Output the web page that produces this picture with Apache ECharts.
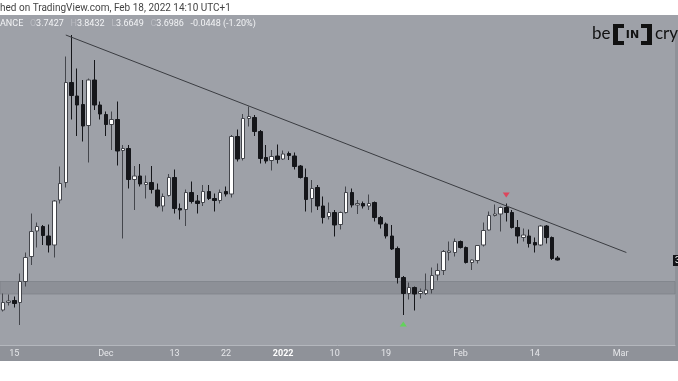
<!DOCTYPE html>
<html><head><meta charset="utf-8">
<script src="https://cdn.jsdelivr.net/npm/echarts@6/dist/echarts.min.js"></script>
<style>html,body{margin:0;padding:0;background:#fff}#c{width:678px;height:381px}</style>
</head><body><div id="c"></div>
<script>
// Daily candles from 2021-11-13 to 2022-02-18
const startDate = [2021, 10, 13];
const dayCount = 118; // axis runs to 2022-03-10
const opens = [2.68,2.83,2.87,2.83,3.25,3.75,4.26,4.35,4.16,3.98,4.88,5.23,7.23,6.96,6.79,6.37,7.28,6.78,6.59,6.39,
  6.49,5.87,5.91,5.29,5.36,5.19,5.23,5.08,4.76,4.97,5.33,4.71,4.69,5.03,4.86,4.83,5.05,4.91,4.87,5.05,
  5.00,6.15,5.71,6.51,6.53,6.25,5.73,5.67,5.76,5.70,5.81,5.76,5.56,5.33,4.91,5.13,4.76,4.55,4.63,4.39,
  4.63,5.03,4.78,4.81,4.76,4.83,4.53,4.40,4.16,3.91,3.33,3.01,3.13,3.01,3.01,3.09,3.38,3.47,3.83,3.83,
  4.05,3.93,3.63,3.67,3.98,4.28,4.57,4.60,4.73,4.63,4.33,4.13,4.16,4.03,3.98,4.36,4.13,3.72];
const closes = [2.83,2.86,2.81,3.25,3.73,4.25,4.35,4.17,3.98,4.86,5.21,7.23,6.97,6.78,6.36,7.28,6.78,6.60,6.39,6.49,
  5.86,5.91,5.29,5.36,5.20,5.23,5.09,4.76,4.95,5.33,4.71,4.68,5.03,4.85,4.81,5.05,4.91,4.87,5.03,5.00,
  6.15,5.70,6.51,6.55,6.25,5.71,5.66,5.75,5.69,5.80,5.77,5.55,5.33,4.89,5.11,4.76,4.53,4.63,4.38,4.63,
  5.03,4.78,4.81,4.76,4.81,4.53,4.40,4.16,3.90,3.33,3.01,3.13,3.00,3.05,3.08,3.37,3.47,3.85,3.86,4.05,
  3.93,3.63,3.68,3.97,4.27,4.57,4.60,4.73,4.63,4.33,4.16,4.18,4.01,3.98,4.36,4.13,3.71,3.68];
const lows = [2.65,2.77,2.73,2.38,3.15,3.58,3.93,3.98,3.83,3.73,4.81,5.13,6.49,6.16,6.05,5.63,6.68,6.49,6.16,5.88,
  5.57,4.11,5.11,4.68,5.15,4.91,5.01,4.73,4.65,4.95,4.61,4.49,4.36,4.81,4.61,4.76,4.88,4.65,4.81,4.95,
  4.93,5.65,5.67,6.35,6.16,5.61,5.61,5.47,5.61,5.68,5.68,5.49,5.31,4.65,4.63,4.68,4.41,4.49,4.15,4.29,
  4.61,4.73,4.60,4.71,4.68,4.45,4.31,4.11,3.88,3.21,2.58,2.89,2.67,2.91,2.98,3.01,3.27,3.38,3.67,3.75,
  3.91,3.61,3.48,3.61,3.95,4.27,4.55,4.25,4.45,4.31,4.01,4.05,3.93,3.83,3.96,4.01,3.68,3.67];
const highs = [3.01,2.99,2.95,3.41,3.83,4.61,4.43,4.38,4.39,4.88,5.55,7.75,8.18,7.51,7.28,7.31,7.68,6.85,6.65,6.65,
  6.85,5.98,5.98,5.56,5.60,5.37,5.56,5.21,5.01,5.40,5.49,4.81,5.09,5.25,4.98,5.18,5.18,5.01,5.09,5.15,
  6.18,6.29,6.60,6.75,6.58,6.28,5.98,5.88,5.99,5.87,5.85,5.83,5.58,5.51,5.28,5.18,4.95,4.83,4.68,4.65,
  5.15,5.11,4.88,4.85,4.99,4.85,4.56,4.43,4.38,3.95,3.36,3.23,3.15,3.11,3.41,3.53,3.61,3.88,4.05,4.11,
  4.07,3.95,3.69,3.98,4.43,4.65,4.79,4.75,4.81,4.68,4.48,4.31,4.29,4.13,4.38,4.38,4.15,3.76];
const tickDates = ['2021-11-15','2021-12-01','2021-12-13','2021-12-22','2022-01-01','2022-01-10','2022-01-19','2022-02-01','2022-02-14','2022-03-01'];
const tickTexts = ['15','Dec','13','22','2022','10','19','Feb','14','Mar'];
const supportZone = [3.00, 3.25];
const trendStart = {day: 11, price: 8.18};
const trendEnd = {day: 109, price: 3.83};
const redSignal = {day: 88, price: 4.98};
const greenSignal = {day: 70, price: 2.40};
const lastPrice = 3.6986;

const categories = [];
const d0 = Date.UTC(startDate[0], startDate[1], startDate[2]);
for (let i = 0; i < dayCount; i++) categories.push(new Date(d0 + i * 86400000).toISOString().slice(0, 10));
const candles = opens.map((o, i) => [o, closes[i], lows[i], highs[i]]);

const chart = echarts.init(document.getElementById('c'), null, {renderer: 'canvas'});
const AXISBG = '#8f9299';
const PANEBG = '#9ea1a8';
chart.setOption({
  animation: false,
  backgroundColor: AXISBG,
  grid: {left: 0, top: 30, width: 675, height: 315, show: true, backgroundColor: PANEBG, borderWidth: 0},
  xAxis: {
    type: 'category', data: categories, boundaryGap: true,
    axisLine: {show: true, lineStyle: {color: '#b4b7bd', width: 1}},
    axisTick: {show: false}, splitLine: {show: false},
    axisLabel: {
      interval: (idx, val) => tickDates.includes(val),
      formatter: val => { const k = tickDates.indexOf(val); if (k < 0) return ''; return tickTexts[k] === '2022' ? '{b|2022}' : tickTexts[k]; },
      color: '#e6e7ea', fontSize: 9, fontFamily: 'Roboto', margin: 4,
      rich: {b: {fontWeight: 'bold', color: '#ffffff', fontSize: 9, fontFamily: 'Roboto'}}
    }
  },
  yAxis: {type: 'value', min: 1.98, max: 8.28, show: false, splitLine: {show: false}},
  series: [{
    type: 'candlestick', data: candles, barWidth: 4,
    itemStyle: {color: '#ffffff', color0: '#15161a', borderColor: '#44464c', borderColor0: '#15161a', borderWidth: 1},
    markArea: {silent: true, itemStyle: {color: 'rgba(110,113,121,0.35)', borderColor: 'rgba(120,123,130,0.6)', borderWidth: 1},
      data: [[{yAxis: supportZone[0]}, {yAxis: supportZone[1]}]]},
    markLine: {silent: true, symbol: ['none', 'none'], label: {show: false},
      lineStyle: {color: '#3a3c41', width: 1, type: 'solid'},
      data: [[{coord: [categories[trendStart.day], trendStart.price]}, {coord: [categories[trendEnd.day], trendEnd.price]}]]}
  }, {
    type: 'scatter', silent: true, symbol: 'triangle', symbolSize: [7, 5], symbolRotate: 180,
    itemStyle: {color: '#ec2f48'}, data: [[categories[redSignal.day], redSignal.price]]
  }, {
    type: 'scatter', silent: true, symbol: 'triangle', symbolSize: [7, 5],
    itemStyle: {color: '#52e046'}, data: [[categories[greenSignal.day], greenSignal.price]]
  }],
  graphic: [
    {type: 'rect', shape: {x: 0, y: 0, width: 678, height: 15}, style: {fill: '#ffffff'}},
    {type: 'rect', shape: {x: 0, y: 15, width: 678, height: 15}, style: {fill: PANEBG}},
    {type: 'text', x: 0, y: 8, style: {text: 'hed on TradingView.com, Feb 18, 2022 14:10 UTC+1', fill: '#444', fontSize: 10, fontFamily: 'Roboto', verticalAlign: 'middle'}},
    {type: 'text', x: 0, y: 24, style: {
      text: '{w|ANCE}  {l|O}{w|3.7427}  {l|H}{w|3.8432}  {l|L}{w|3.6649}  {l|C}{w|3.6986}  {w|-0.0448 (-1.20%)}',
      verticalAlign: 'middle',
      rich: {w: {fill: '#f2f3f5', fontSize: 9, fontFamily: 'Roboto'}, l: {fill: '#b8bac0', fontSize: 9, fontFamily: 'Roboto'}}}},
    {type: 'rect', shape: {x: 0, y: 361, width: 678, height: 20}, style: {fill: '#ffffff'}},
    // logo
    {type: 'text', x: 592, y: 34, style: {text: 'be', fill: '#111', fontSize: 17, fontFamily: 'Lato', verticalAlign: 'middle'}},
    {type: 'rect', shape: {x: 613, y: 24, width: 5, height: 21}, style: {fill: '#111'}},
    {type: 'rect', shape: {x: 613, y: 24, width: 11, height: 4}, style: {fill: '#111'}},
    {type: 'rect', shape: {x: 613, y: 41, width: 11, height: 4}, style: {fill: '#111'}},
    {type: 'rect', shape: {x: 647, y: 24, width: 5, height: 21}, style: {fill: '#111'}},
    {type: 'rect', shape: {x: 641, y: 24, width: 11, height: 4}, style: {fill: '#111'}},
    {type: 'rect', shape: {x: 641, y: 41, width: 11, height: 4}, style: {fill: '#111'}},
    {type: 'text', x: 632.5, y: 35, style: {text: 'IN', fill: '#111', fontSize: 11, fontWeight: 'bold', fontFamily: 'DejaVu Sans', align: 'center', verticalAlign: 'middle'}},
    {type: 'text', x: 655, y: 34, style: {text: 'cry', fill: '#111', fontSize: 17, fontFamily: 'Lato', verticalAlign: 'middle'}},
    // last price label (clipped at right edge)
    {type: 'rect', shape: {x: 673, y: 255, width: 40, height: 11}, style: {fill: '#131418'}},
    {type: 'text', x: 675, y: 261, style: {text: lastPrice.toFixed(4), fill: '#fff', fontSize: 9, fontFamily: 'Roboto', verticalAlign: 'middle'}}
  ]
});
</script></body></html>
